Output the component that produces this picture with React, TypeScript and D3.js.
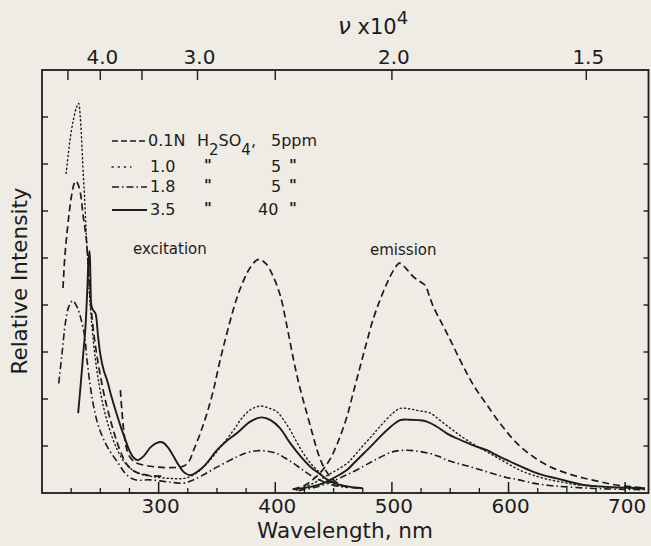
import React from "react";
import * as d3 from "d3";

type P = [number, number];

// wavelength (nm), relative intensity
const dashedExcitationShort: P[] = [
  [218.0, 4.36], [219.5, 5.0], [221.5, 5.55], [223.5, 6.0], [225.5, 6.35], [227.5, 6.58], [229, 6.64],
  [231, 6.56], [233.5, 6.3], [235, 5.95], [236.6, 5.67], [238, 5.4], [239.5, 4.9], [241, 4.3],
  [243, 3.7], [246, 3.1], [250, 2.5], [255, 1.9], [261, 1.35], [267, 0.9], [273, 0.6], [280, 0.45],
  [290, 0.38], [305, 0.36],
];
const dashedExcitation: P[] = [
  [267.2, 2.19], [268.5, 1.75], [270, 1.35], [272, 1.0], [275, 0.78], [280, 0.65], [290, 0.58],
  [300, 0.55], [310, 0.54], [318, 0.55], [322, 0.58], [326, 0.67], [330, 0.91], [335.7, 1.27],
  [341.5, 1.7], [347, 2.19], [352, 2.75], [358, 3.35], [364, 3.9], [370, 4.35], [378.6, 4.8],
  [385.7, 4.97], [392, 4.88], [398, 4.62], [404.3, 4.2], [410, 3.55], [415.7, 2.83], [421, 2.25],
  [427, 1.7], [432, 1.25], [436, 0.9], [441, 0.58], [447, 0.35], [454, 0.2], [461.4, 0.13], [473, 0.1],
];
const dashedEmission: P[] = [
  [415, 0.08], [425, 0.16], [433, 0.3], [440, 0.47], [447, 0.72], [454, 1.1], [461.4, 1.62], [467, 2.15],
  [472.8, 2.69], [478.5, 3.22], [484.2, 3.72], [490, 4.12], [495.7, 4.46], [501, 4.72], [506.5, 4.89],
  [512, 4.78], [518.5, 4.6], [524, 4.5], [528.5, 4.42], [532, 4.2], [535.6, 3.96], [543, 3.6],
  [550, 3.26], [557, 2.9], [564.2, 2.55], [571, 2.25], [578.5, 1.98], [592.8, 1.48], [607.1, 1.06],
  [621.3, 0.77], [635.6, 0.56], [650, 0.42], [664, 0.32], [678.5, 0.24], [692, 0.17], [707, 0.13], [717, 0.1],
];

const dottedExcitation: P[] = [
  [220.7, 6.8], [222.5, 7.2], [224.5, 7.6], [227, 7.95], [229.5, 8.2], [231.4, 8.29], [232.8, 8.0],
  [234.4, 7.3], [235.2, 6.87], [236.5, 6.3], [238, 5.5], [239.5, 4.8], [241, 4.1], [243, 3.5],
  [245.5, 2.9], [249, 2.3], [253, 1.8], [258, 1.35], [264, 0.95], [270, 0.68], [277, 0.5], [285, 0.4],
  [295, 0.35], [310, 0.31], [321.4, 0.31], [328, 0.36], [335.7, 0.49], [343, 0.67], [350, 0.88],
  [357, 1.1], [364.3, 1.34], [371, 1.58], [378.6, 1.77], [387.1, 1.85], [394, 1.81], [401.4, 1.73],
  [407, 1.56], [412.8, 1.34], [418, 1.1], [424.2, 0.84], [430, 0.64], [435.7, 0.49], [444.3, 0.28],
  [452, 0.17], [462, 0.12],
];
const dottedEmission: P[] = [
  [418, 0.06], [432, 0.2], [445, 0.38], [461, 0.62], [468, 0.8], [475, 1.0], [483, 1.22], [490, 1.42],
  [500, 1.68], [507, 1.8], [515, 1.79], [523, 1.75], [532.8, 1.7], [541, 1.55], [550, 1.38], [557, 1.25],
  [564, 1.13], [574, 0.98], [584, 0.84], [594, 0.7], [604, 0.56], [612, 0.46], [621, 0.38], [632, 0.3],
  [644, 0.24], [657, 0.18], [670, 0.15], [685, 0.12], [700, 0.1], [717, 0.08],
];

const dashDotExcitation: P[] = [
  [214.3, 2.33], [217.2, 2.97], [220, 3.61], [222.9, 3.96], [226.3, 4.09], [230, 3.96], [232.9, 3.75],
  [236.6, 3.33], [238.6, 2.83], [241.5, 2.26], [244.3, 1.84], [248.6, 1.41], [255.8, 0.99], [264.4, 0.67],
  [272.9, 0.38], [280, 0.28], [292.9, 0.28], [310, 0.23], [321.4, 0.21], [328, 0.26], [335.7, 0.35],
  [350, 0.55], [367.2, 0.77], [376, 0.86], [384.3, 0.9], [393, 0.89], [401.4, 0.84], [408, 0.75],
  [415.7, 0.63], [423, 0.5], [430, 0.38], [441.4, 0.24], [450, 0.16], [462, 0.12],
];
const dashDotEmission: P[] = [
  [420, 0.05], [432, 0.11], [440, 0.16], [450, 0.26], [458, 0.35], [465, 0.43], [475.7, 0.57], [483, 0.67],
  [490, 0.76], [501, 0.88], [512.8, 0.91], [522, 0.89], [532.8, 0.84], [540, 0.78], [547, 0.7], [555, 0.64],
  [564, 0.58], [575, 0.5], [587, 0.41], [598, 0.33], [607, 0.29], [621, 0.21], [635, 0.16], [650, 0.13],
  [680, 0.09], [717, 0.07],
];

const solidExcitation: P[] = [
  [231, 1.7], [233.5, 2.4], [235.5, 3.0], [237.2, 3.5], [238.8, 4.3], [240, 5.0], [240.8, 5.15],
  [241.5, 4.6], [242.3, 4.0], [243.5, 3.9], [245.8, 3.82], [248, 3.35], [250, 2.95], [253, 2.6],
  [255.8, 2.4], [259, 2.1], [262.9, 1.77], [267, 1.45], [271.5, 1.13], [275, 0.9], [278.6, 0.75],
  [282, 0.7], [287, 0.78], [293, 0.97], [298, 1.06], [303, 1.08], [308, 0.97], [313, 0.77], [317, 0.6],
  [321.4, 0.45], [327, 0.38], [333, 0.45], [340, 0.6], [350, 0.91], [358, 1.1], [367, 1.27],
  [378.6, 1.52], [388.6, 1.61], [396, 1.55], [404, 1.38], [412.8, 1.06], [421, 0.8], [430, 0.56],
  [438.5, 0.4], [445, 0.28], [452, 0.2], [462, 0.14], [475, 0.1],
];
const solidEmission: P[] = [
  [415, 0.08], [430, 0.13], [441.4, 0.21], [450, 0.32], [461.4, 0.49], [468, 0.65], [475.7, 0.84],
  [483, 1.02], [490, 1.2], [500, 1.43], [507, 1.55], [515, 1.56], [523, 1.55], [530, 1.52], [538, 1.42],
  [547, 1.27], [555, 1.17], [564.2, 1.07], [572, 0.99], [581.4, 0.91], [591, 0.79], [601.4, 0.67],
  [611, 0.56], [621.3, 0.45], [631, 0.37], [641.4, 0.31], [652, 0.24], [664.2, 0.17], [678, 0.14],
  [692.8, 0.12], [717, 0.1],
];

const wavelengthMajorTicks = [300, 400, 500, 600, 700];
const wavelengthMinorTicks = d3.range(225, 720, 25).filter((t) => t % 100 !== 0);
const wavenumberTicks = [4.5, 4.0, 3.5, 3.0, 2.5, 2.0, 1.5];
const wavenumberLabelValues = [4.0, 3.0, 2.0, 1.5];
const wavenumberLabelTexts = ["4.0", "3.0", "2.0", "1.5"];
const intensityTicks = [1, 2, 3, 4, 5, 6, 7, 8];

const legendNormality = ["0.1N", "1.0", "1.8", "3.5"];
const legendPpm = ["5ppm", "5", "5", "40"];

const INK = "#1c1c1c";
const BG = "#efebe5";
const FONT = "DejaVu Sans";

export default function App() {
  const W = 651;
  const H = 546;
  const x = d3.scaleLinear().domain([200, 720]).range([42, 648.5]);
  const y = d3.scaleLinear().domain([0, 9]).range([493, 70]);
  const line = d3
    .line<P>()
    .x((d) => x(d[0]))
    .y((d) => y(d[1]))
    .curve(d3.curveCatmullRom.alpha(0.5));

  const styles = {
    dashed: { dash: "7,4", width: 1.7 },
    dotted: { dash: "1.2,3", width: 1.4 },
    dashDot: { dash: "7,3,1.5,3", width: 1.6 },
    solid: { dash: "none", width: 1.9 },
  };

  const curves: { d: P[]; s: keyof typeof styles }[] = [
    { d: dashedExcitationShort, s: "dashed" },
    { d: dashedExcitation, s: "dashed" },
    { d: dashedEmission, s: "dashed" },
    { d: dottedExcitation, s: "dotted" },
    { d: dottedEmission, s: "dotted" },
    { d: dashDotExcitation, s: "dashDot" },
    { d: dashDotEmission, s: "dashDot" },
    { d: solidExcitation, s: "solid" },
    { d: solidEmission, s: "solid" },
  ];

  const legendStyles: (keyof typeof styles)[] = ["dashed", "dotted", "dashDot", "solid"];
  const legendBaselines = [146, 172, 192, 215];
  const x0 = x(200), x1 = x(720), y0 = y(0), y1 = y(9);

  return (
    <svg width={W} height={H} style={{ position: "absolute", left: 0, top: 0 }} fontFamily={FONT}>
      <rect x={0} y={0} width={W} height={H} fill={BG} />
      {/* frame */}
      <rect x={x0} y={y1} width={x1 - x0} height={y0 - y1} fill="none" stroke={INK} strokeWidth={1.8} />
      {/* bottom ticks */}
      {wavelengthMajorTicks.map((t) => (
        <line key={"M" + t} x1={x(t)} x2={x(t)} y1={y0} y2={y0 - 11} stroke={INK} strokeWidth={1.5} />
      ))}
      {wavelengthMinorTicks.map((t) => (
        <line key={"m" + t} x1={x(t)} x2={x(t)} y1={y0} y2={y0 - 5} stroke={INK} strokeWidth={1.3} />
      ))}
      {wavelengthMajorTicks.map((t) => (
        <text key={"L" + t} x={x(t) + 2} y={513} fontSize={20} textAnchor="middle" fill={INK}>
          {t}
        </text>
      ))}
      {/* top ticks */}
      {wavenumberTicks.map((v) => (
        <line key={"T" + v} x1={x(1000 / v)} x2={x(1000 / v)} y1={y1} y2={y1 + 10} stroke={INK} strokeWidth={1.4} />
      ))}
      {wavenumberLabelValues.map((v, i) => (
        <text key={"TL" + v} x={x(1000 / v) + 2} y={64} fontSize={20} textAnchor="middle" fill={INK}>
          {wavenumberLabelTexts[i]}
        </text>
      ))}
      {/* left/right ticks */}
      {intensityTicks.map((t) => (
        <g key={"Y" + t}>
          <line x1={x0} x2={x0 + 6} y1={y(t)} y2={y(t)} stroke={INK} strokeWidth={1.4} />
          <line x1={x1} x2={x1 - 5} y1={y(t)} y2={y(t)} stroke={INK} strokeWidth={1.4} />
        </g>
      ))}
      {/* curves */}
      {curves.map((c, i) => (
        <path
          key={"c" + i}
          d={line(c.d) || ""}
          fill="none"
          stroke={INK}
          strokeWidth={styles[c.s].width}
          strokeDasharray={styles[c.s].dash}
          strokeLinecap={c.s === "dotted" ? "round" : "butt"}
        />
      ))}
      {/* legend */}
      {legendNormality.map((n, i) => (
        <g key={"lg" + i}>
          <line
            x1={112}
            x2={i === 1 ? 131 : 147}
            y1={legendBaselines[i] - 5}
            y2={legendBaselines[i] - 5}
            stroke={INK}
            strokeWidth={styles[legendStyles[i]].width}
            strokeDasharray={i === 1 ? "1.2,5" : i === 0 ? "6,3" : styles[legendStyles[i]].dash}
            strokeLinecap={i === 1 ? "round" : "butt"}
          />
          <text x={i === 0 ? 148 : 150} y={legendBaselines[i]} fontSize={16} fill={INK}>
            {n}
          </text>
          {i === 0 ? (
            <text x={197} y={legendBaselines[i]} fontSize={16} fill={INK}>
              H<tspan dy={9} fontSize={15}>2</tspan>
              <tspan dy={-9}>SO</tspan>
              <tspan dy={9} fontSize={15}>4</tspan>
              <tspan dy={-9}>,</tspan>
            </text>
          ) : (
            <text x={208} y={legendBaselines[i] - 1} fontSize={15} fontWeight="bold" textAnchor="middle" fill={INK}>
              "
            </text>
          )}
          <text x={i === 3 ? 258 : 271} y={legendBaselines[i]} fontSize={16} fill={INK}>
            {legendPpm[i]}
          </text>
          {i > 0 && (
            <text x={293} y={legendBaselines[i] - 1} fontSize={15} fontWeight="bold" textAnchor="middle" fill={INK}>
              "
            </text>
          )}
        </g>
      ))}
      <text x={133} y={254} fontSize={15} fill={INK}>excitation</text>
      <text x={370} y={255} fontSize={15} fill={INK}>emission</text>
      {/* axis titles */}
      <text x={345} y={538} fontSize={21.5} textAnchor="middle" fill={INK}>
        Wavelength,  nm
      </text>
      <text transform="translate(27,281) rotate(-90)" fontSize={21.5} textAnchor="middle" fill={INK}>
        Relative Intensity
      </text>
      <text x={338} y={34} fontSize={23} fill={INK}>
        <tspan fontStyle="italic">ν</tspan>
        <tspan fontSize={21}> x10</tspan>
        <tspan dy={-10} fontSize={18}>4</tspan>
      </text>
    </svg>
  );
}
